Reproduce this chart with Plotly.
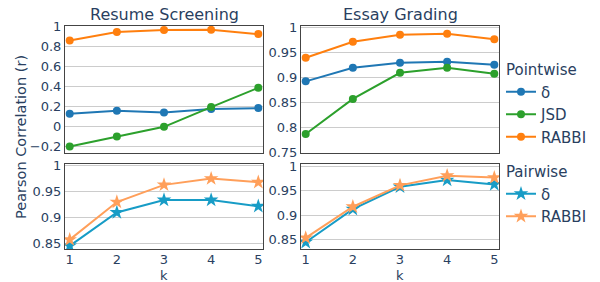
import plotly.graph_objects as go

k = [1, 2, 3, 4, 5]

# Resume Screening - Pointwise
resume_point_delta = [0.13, 0.16, 0.143, 0.177, 0.187]
resume_point_jsd = [-0.197, -0.097, 0.0, 0.197, 0.39]
resume_point_rabbi = [0.863, 0.947, 0.967, 0.97, 0.927]
# Essay Grading - Pointwise
essay_point_delta = [0.892, 0.919, 0.929, 0.931, 0.925]
essay_point_jsd = [0.787, 0.857, 0.909, 0.919, 0.907]
essay_point_rabbi = [0.939, 0.971, 0.985, 0.987, 0.976]
# Resume Screening - Pairwise
resume_pair_delta = [0.846, 0.910, 0.934, 0.934, 0.922]
resume_pair_rabbi = [0.858, 0.930, 0.963, 0.975, 0.968]
# Essay Grading - Pairwise
essay_pair_delta = [0.844, 0.912, 0.958, 0.972, 0.963]
essay_pair_rabbi = [0.853, 0.917, 0.961, 0.981, 0.977]

titles = ["Resume Screening", "Essay Grading"]

C_BLUE = "#1f77b4"
C_GREEN = "#2ca02c"
C_ORANGE = "#ff7f0e"
C_CYAN = "#179cc6"
C_LORANGE = "#ff9f5a"

FONT = "DejaVu Sans"
TXT = "#2a3f5f"

fig = go.Figure()

def add(x, y, xa, ya, color, name, group, show, symbol, size, gtitle):
    fig.add_trace(go.Scatter(
        x=x, y=y, xaxis=xa, yaxis=ya, mode="lines+markers", name=name,
        line=dict(color=color, width=2),
        marker=dict(symbol=symbol, size=size, color=color),
        legendgroup=group, showlegend=show,
        legendgrouptitle_text=gtitle,
    ))

# top-left
add(k, resume_point_delta, "x", "y", C_BLUE, "δ", "point", True, "circle", 8, "Pointwise")
add(k, resume_point_jsd, "x", "y", C_GREEN, "JSD", "point", True, "circle", 8, "Pointwise")
add(k, resume_point_rabbi, "x", "y", C_ORANGE, "RABBI", "point", True, "circle", 8, "Pointwise")
# top-right
add(k, essay_point_delta, "x2", "y2", C_BLUE, "δ", "point", False, "circle", 8, "Pointwise")
add(k, essay_point_jsd, "x2", "y2", C_GREEN, "JSD", "point", False, "circle", 8, "Pointwise")
add(k, essay_point_rabbi, "x2", "y2", C_ORANGE, "RABBI", "point", False, "circle", 8, "Pointwise")
# bottom-left
add(k, resume_pair_delta, "x3", "y3", C_CYAN, "δ", "pair", True, "star", 11, "Pairwise")
add(k, resume_pair_rabbi, "x3", "y3", C_LORANGE, "RABBI", "pair", True, "star", 11, "Pairwise")
# bottom-right
add(k, essay_pair_delta, "x4", "y4", C_CYAN, "δ", "pair", False, "star", 11, "Pairwise")
add(k, essay_pair_rabbi, "x4", "y4", C_LORANGE, "RABBI", "pair", False, "star", 11, "Pairwise")

W, H = 600, 282
L, R, T, B = 65, 101, 26, 33
pw = W - L - R
ph = H - T - B
xdl = [0, (263 - L) / pw]
xdr = [(301 - L) / pw, 1]
ydt = [(H - B - 153) / ph, 1]
ydb = [0, (H - B - 164) / ph]

axcommon = dict(showline=True, linecolor="#444", linewidth=1, mirror=True,
                ticks="", automargin=False,
                tickfont=dict(family=FONT, size=13, color=TXT))
xcommon = dict(axcommon, tickvals=k, showgrid=False, range=[0.9, 5.1])
ycommon = dict(axcommon, showgrid=True, gridcolor="#cccccc", gridwidth=1, zeroline=False)

fig.update_layout(
    width=W, height=H,
    margin=dict(l=L, r=R, t=T, b=B, autoexpand=False),
    plot_bgcolor="white", paper_bgcolor="white",
    font=dict(family=FONT, color=TXT),
    xaxis=dict(xcommon, domain=xdl, anchor="y", showticklabels=False),
    yaxis=dict(ycommon, domain=ydt, anchor="x", range=[-0.262, 1.008], dtick=0.2),
    xaxis2=dict(xcommon, domain=xdr, anchor="y2", showticklabels=False),
    yaxis2=dict(ycommon, domain=ydt, anchor="x2", range=[0.749, 1.0025], dtick=0.05),
    xaxis3=dict(xcommon, domain=xdl, anchor="y3"),
    yaxis3=dict(ycommon, domain=ydb, anchor="x3", range=[0.84, 1.003], dtick=0.05),
    xaxis4=dict(xcommon, domain=xdr, anchor="y4"),
    yaxis4=dict(ycommon, domain=ydb, anchor="x4", range=[0.83, 1.005], dtick=0.05),
    legend=dict(x=(501 - L) / pw, y=(H - B - 53) / ph, xanchor="left", yanchor="top",
                bgcolor="white", borderwidth=0, tracegroupgap=12,
                font=dict(family=FONT, size=15, color=TXT),
                grouptitlefont=dict(family=FONT, size=15, color=TXT),
                itemwidth=30),
    showlegend=True,
)

try:
    fig.update_layout(xaxis3_ticklabelstandoff=-2, xaxis4_ticklabelstandoff=-2)
except Exception:
    pass

ann = []
for i, t in enumerate(titles):
    xd = xdl if i == 0 else xdr
    ann.append(dict(text=t, x=(xd[0] + xd[1]) / 2, y=1, xref="paper", yref="paper",
                    xanchor="center", yanchor="bottom", yshift=0, showarrow=False,
                    font=dict(family=FONT, size=16, color=TXT)))
    ann.append(dict(text="k", x=(xd[0] + xd[1]) / 2, y=(H - B - 275) / ph,
                    xref="paper", yref="paper", borderpad=0,
                    xanchor="center", yanchor="middle", showarrow=False,
                    font=dict(family=FONT, size=13, color=TXT)))
ann.append(dict(text="Pearson Correlation (r)", x=(21 - L) / pw, y=(H - B - 137) / ph,
                xref="paper", yref="paper", xanchor="center", yanchor="middle",
                showarrow=False, textangle=-90,
                font=dict(family=FONT, size=14.5, color=TXT)))
fig.update_layout(annotations=ann)

fig.write_html("out.html", config={"displayModeBar": False},
               post_script="document.body.style.margin='0';document.body.style.padding='0';")
